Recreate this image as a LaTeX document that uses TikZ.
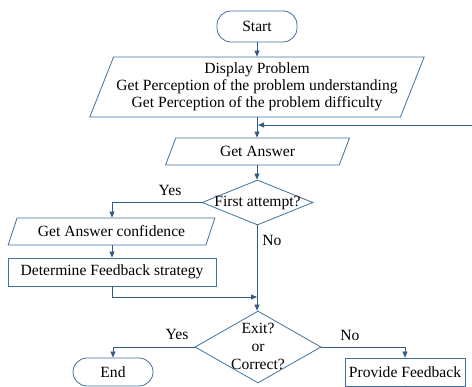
\documentclass[tikz,border=0pt]{standalone}
\usepackage{fontspec}
\setmainfont{Liberation Serif}
\usetikzlibrary{shapes.geometric,arrows.meta}
\definecolor{edgeblue}{HTML}{41719C}
\definecolor{lineblue}{HTML}{355C86}
\begin{document}
\begin{tikzpicture}[x=1pt,y=-1pt,
  every node/.style={font=\fontsize{15.6}{17}\selectfont, text=black},
  shapeline/.style={draw=edgeblue, line width=0.8pt, fill=white},
  term/.style={shapeline, rectangle, rounded corners=14pt, inner sep=0pt},
  procbox/.style={shapeline, rectangle, inner sep=0pt},
  para/.style={shapeline, trapezium, trapezium stretches=true, inner sep=0pt,
     trapezium left angle=#1, trapezium right angle=180-#1},
  diam/.style={shapeline, diamond, inner sep=0pt},
  conn/.style={draw=lineblue, line width=0.8pt},
  arr/.style={conn, -{Triangle[length=6pt,width=5pt]}},
  lbl/.style={inner sep=0pt}
]
\useasboundingbox (0,0) rectangle (472,387);

% nodes
\node[term, minimum width=80, minimum height=31] (start) at (257,26.5) {Start};
\node[para=64.2, minimum width=336, minimum height=60, align=center] (disp) at (257,87)
  {Display Problem\\Get Perception of the problem understanding\\Get Perception of the problem difficulty};
\node[para=66, minimum width=185, minimum height=27] (ans) at (257.5,151.5) {Get Answer};
\node[diam, minimum width=111, minimum height=45] (d1) at (257.5,202.5) {};
\node[lbl] (d1t) at (d1.center) {First attempt?};
\node[para=58, minimum width=207, minimum height=27] (conf) at (111.5,231.5) {Get Answer confidence};
\node[procbox, minimum width=208, minimum height=28] (det) at (112,272) {Determine Feedback strategy};
\node[diam, minimum width=126, minimum height=72] (d2) at (258,347) {};
\node[lbl, align=center, font=\fontsize{15.6}{18}\selectfont] (d2t) at (258,346) {Exit?\\or\\Correct?};
\node[term, minimum width=80, minimum height=28] (end) at (113,372) {End};
\node[procbox, minimum width=120, minimum height=28] (pf) at (405,372) {Provide Feedback};

\coordinate (ret) at (472,125);
\coordinate (j1) at (258,125);
\coordinate (j2) at (257,297);
\coordinate (pfout) at (405,387);

% labels
\node[lbl] (y1) at (170,190) {Yes};
\node[lbl] (n1) at (272,240) {No};
\node[lbl] (y2) at (177,334) {Yes};
\node[lbl] (n2) at (350,335) {No};

% connectors
\draw[arr] (start.south) -- (start.south |- disp.north);
\draw[arr] (start.south |- disp.south) -- (start.south |- ans.north);
\draw[arr] (ret) -- (j1);
\draw[arr] (start.south |- ans.south) -- (start.south |- d1.north);
\draw[arr] (d1.west) -| (det.north |- conf.north);
\draw[arr] (det.north |- conf.south) -- (det.north);
\draw[arr] (det.south) |- (j2);
\draw[arr] (start.south |- d1.south) -- (start.south |- d2.north);
\draw[arr] (d2.west) -| (end.north);
\draw[arr] (d2.east) -| (pf.north);
\draw[conn] (pf.south) -- (pfout);
\end{tikzpicture}
\end{document}
